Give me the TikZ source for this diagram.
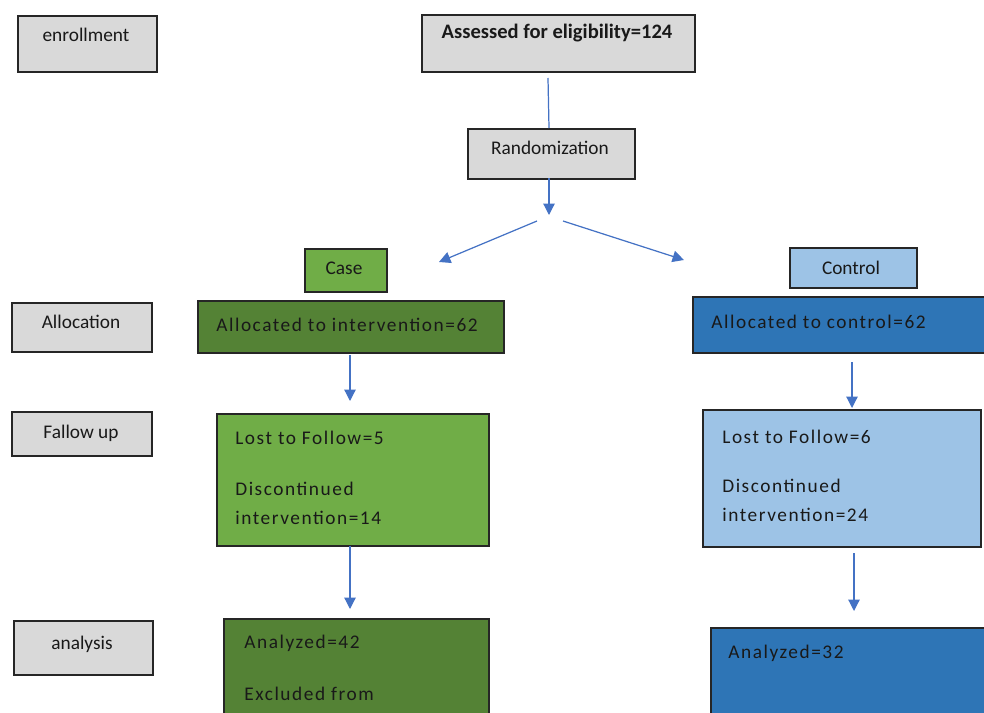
\documentclass[tikz,border=0pt]{standalone}
\usepackage{fontspec}
\setmainfont{Carlito}
\newfontfamily\spacedfont[LetterSpace=8]{Carlito}
\usetikzlibrary{arrows.meta,calc}
\definecolor{boxgray}{HTML}{D9D9D9}
\definecolor{casegreen}{HTML}{70AD47}
\definecolor{darkgreen}{HTML}{548235}
\definecolor{lightblue}{HTML}{9DC3E6}
\definecolor{darkblue}{HTML}{2E75B6}
\definecolor{arrowblue}{HTML}{4472C4}
\definecolor{edge}{HTML}{262626}
\tikzset{
  box/.style={draw=edge, line width=0.9pt, rectangle, inner sep=0pt, anchor=north west},
  txt/.style={font=\fontsize{11}{13}\selectfont, text=black!90, inner sep=0pt},
  ltxt/.style={txt, font=\spacedfont\fontsize{11}{13}\selectfont, anchor=west},
  conn/.style={draw=arrowblue, line width=0.7pt},
  arr/.style={conn, -{Triangle[length=6.5pt,width=6.5pt]}},
}
\begin{document}
\begin{tikzpicture}[x=0.02cm, y=-0.02cm]
\useasboundingbox (0,0) rectangle (984,713);
\clip (0,0) rectangle (984,713);
% left labels
\node[box, fill=boxgray, minimum width=139*0.02cm, minimum height=56*0.02cm] (enr) at (17,15) {};
\node[txt] (enrt) at (86,35) {enrollment};
\node[box, fill=boxgray, minimum width=140*0.02cm, minimum height=49*0.02cm] (alloc) at (11,302) {};
\node[txt] (alloct) at (81,322) {Allocation};
\node[box, fill=boxgray, minimum width=140*0.02cm, minimum height=44*0.02cm] (fol) at (11,411) {};
\node[txt] (folt) at (81,433) {Fallow up};
\node[box, fill=boxgray, minimum width=139*0.02cm, minimum height=54*0.02cm] (ana) at (13,620) {};
\node[txt] (anat) at (82,644) {analysis};
% top
\node[box, fill=boxgray, minimum width=273*0.02cm, minimum height=57*0.02cm] (assess) at (421,14) {};
\node[txt, font=\fontsize{11.7}{13}\selectfont\bfseries] (assesst) at (557,33) {Assessed for eligibility=124};
\node[box, fill=boxgray, minimum width=167*0.02cm, minimum height=50*0.02cm] (rand) at (467,128) {};
\node[txt] (randt) at (550,148) {Randomization};
% group headers
\node[box, fill=casegreen, minimum width=82*0.02cm, minimum height=43*0.02cm] (case) at (304,248) {};
\node[txt] (caset) at (344,268) {Case};
\node[box, fill=lightblue, minimum width=127*0.02cm, minimum height=40*0.02cm] (ctrl) at (789,247) {};
\node[txt] (ctrlt) at (851,268) {Control};
% case column
\node[box, fill=darkgreen, minimum width=306*0.02cm, minimum height=52*0.02cm] (ai) at (197,300) {};
\node[ltxt] (ait) at (216,325) {Allocated to intervention=62};
\node[box, fill=casegreen, minimum width=272*0.02cm, minimum height=132*0.02cm] (fi) at (216,413) {};
\node[ltxt] (fi1) at (235,438) {Lost to Follow=5};
\node[ltxt] (fi2) at (235,489) {Discontinued};
\node[ltxt] (fi3) at (235,518) {intervention=14};
\node[box, fill=darkgreen, minimum width=265*0.02cm, minimum height=110*0.02cm] (an) at (223,618) {};
\node[ltxt] (an1) at (244,643) {Analyzed=42};
\node[ltxt] (an2) at (244,694) {Excluded from};
% control column
\node[box, fill=darkblue, minimum width=300*0.02cm, minimum height=56*0.02cm] (ac) at (692,296) {};
\node[ltxt] (act) at (711,322) {Allocated to control=62};
\node[box, fill=lightblue, minimum width=278*0.02cm, minimum height=137*0.02cm] (fc) at (702,409) {};
\node[ltxt] (fc1) at (722,437) {Lost to Follow=6};
\node[ltxt] (fc2) at (722,486) {Discontinued};
\node[ltxt] (fc3) at (722,515) {intervention=24};
\node[box, fill=darkblue, minimum width=290*0.02cm, minimum height=100*0.02cm] (cn) at (710,627) {};
\node[ltxt] (cn1) at (728,653) {Analyzed=32};
% connectors
\coordinate (a1) at (548,78);
\coordinate (a2) at (549,128);
\draw[conn] (a1) -- (a2);
\coordinate (r1) at (549,178);
\coordinate (split) at (549,215);
\draw[arr] (r1) -- (split);
\coordinate (sl) at (537,221);
\coordinate (sle) at (439,262);
\coordinate (sr) at (563,221);
\coordinate (sre) at (684,260);
\draw[arr] (sl) -- (sle);
\draw[arr] (sr) -- (sre);
\coordinate (c1) at (350,355);
\coordinate (c2) at (350,401);
\draw[arr] (c1) -- (c2);
\coordinate (c3) at (350,546);
\coordinate (c4) at (350,609);
\draw[arr] (c3) -- (c4);
\coordinate (d1) at (852,362);
\coordinate (d2) at (852,408);
\draw[arr] (d1) -- (d2);
\coordinate (d3) at (854,553);
\coordinate (d4) at (854,611);
\draw[arr] (d3) -- (d4);
\end{tikzpicture}
\end{document}
